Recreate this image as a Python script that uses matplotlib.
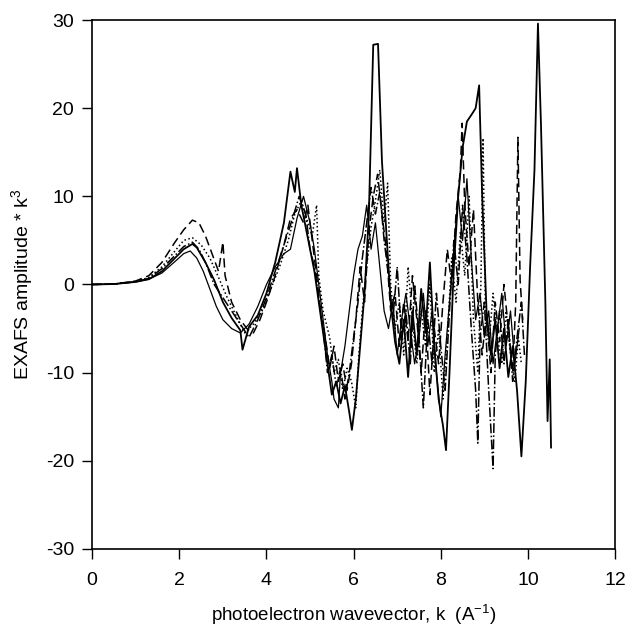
import matplotlib
matplotlib.use("Agg")
import matplotlib.pyplot as plt

plt.rcParams['font.family'] = ['Liberation Sans', 'DejaVu Sans']
plt.rcParams['mathtext.fontset'] = 'custom'
plt.rcParams['mathtext.rm'] = 'Liberation Sans'
plt.rcParams['mathtext.it'] = 'Liberation Sans:italic'
plt.rcParams['axes.unicode_minus'] = False

# sample 1 (solid)
k1 = [0, 0.5, 1.0, 1.3, 1.6, 1.9, 2.1, 2.3, 2.4, 2.6, 2.8, 3.0, 3.2, 3.4, 3.45, 3.6, 3.8, 4.0,
      4.2, 4.4, 4.55, 4.65, 4.7, 4.8, 4.9, 5.0, 5.1, 5.2, 5.3, 5.4, 5.5, 5.6, 5.7, 5.8, 5.9, 5.96,
      6.05, 6.15, 6.25, 6.35, 6.45, 6.56, 6.65, 6.75, 6.85, 6.95, 7.05, 7.15, 7.25, 7.35, 7.45,
      7.55, 7.65, 7.75, 7.85, 7.95, 8.05, 8.12, 8.2, 8.3, 8.4, 8.5, 8.6, 8.71, 8.8, 8.88, 8.95,
      9.05, 9.15, 9.25, 9.35, 9.45, 9.55, 9.65, 9.75, 9.85, 9.95, 10.05, 10.15, 10.23, 10.3,
      10.4, 10.45, 10.5, 10.53]
y1 = [0, 0.05, 0.3, 0.6, 1.5, 3.0, 4.0, 4.6, 4.2, 2.5, 0.5, -2.0, -3.8, -5.2, -7.4, -4.8, -3.5, -1.0,
      2.5, 7.0, 12.8, 10.5, 13.2, 9.0, 6.5, 4.0, 1.5, -2.0, -5.5, -9.0, -12.5, -11.0, -13.5, -11.5,
      -14.5, -16.5, -13.0, -7.0, -1.0, 8.0, 27.2, 27.3, 14.0, 6.0, -2.0, -6.5, -9.0, -4.0, -10.5,
      -3.0, -8.0, -0.5, -5.5, 2.5, -7.0, -13.0, -16.0, -18.8, -10.0, 2.0, 10.0, 15.5, 18.5, 19.3,
      20.0, 22.6, 10.0, -3.0, -8.0, -4.0, -9.5, -5.0, -10.5, -7.0, -12.0, -19.5, -11.0, 2.0, 13.0,
      29.6, 18.0, -2.0, -15.5, -8.5, -18.5]

# sample 2 (dashed)
k2 = [0, 0.5, 1.0, 1.3, 1.6, 1.9, 2.1, 2.3, 2.45, 2.6, 2.75, 2.9, 3.0, 3.05, 3.2, 3.4, 3.55, 3.7,
      3.85, 4.0, 4.2, 4.4, 4.55, 4.7, 4.85, 4.95, 5.05, 5.15, 5.25, 5.35, 5.45, 5.55, 5.65, 5.75,
      5.85, 5.95, 6.05, 6.15, 6.25, 6.35, 6.45, 6.55, 6.65, 6.75, 6.85, 6.95, 7.05, 7.15, 7.25,
      7.35, 7.45, 7.55, 7.65, 7.75, 7.85, 7.95, 8.05, 8.15, 8.25, 8.35, 8.45, 8.49, 8.55, 8.65,
      8.75, 8.85, 8.95, 9.05, 9.15, 9.25, 9.35, 9.45, 9.55, 9.65, 9.72, 9.77, 9.82, 9.88]
y2 = [0, 0.05, 0.4, 1.0, 2.5, 4.8, 6.2, 7.3, 7.0, 5.5, 3.5, 1.5, 4.8, 1.0, -2.0, -4.0, -5.0, -5.5,
      -4.0, -2.0, 1.0, 4.5, 7.5, 8.5, 7.0, 9.0, 5.0, 1.0, -3.5, -6.0, -9.5, -7.0, -11.0, -9.0,
      -12.0, -9.0, -4.0, 2.0, -2.0, 6.0, 10.0, 12.5, 8.0, 4.0, -3.0, -1.0, -7.0, -2.0, -6.5,
      1.0, -4.0, -10.0, -3.0, -12.5, -5.0, -9.0, -2.0, 4.0, 0.0, 8.0, 13.0, 18.3, 9.0, 2.0,
      8.5, -2.0, -8.0, -3.0, -10.0, -2.0, -6.5, 0.0, -5.0, -10.0, -2.0, 16.7, 0.5, -4.0]

# sample 3 (dotted)
k3 = [0, 0.5, 1.0, 1.3, 1.6, 1.9, 2.1, 2.3, 2.5, 2.7, 2.9, 3.1, 3.3, 3.5, 3.7, 3.9, 4.1, 4.3,
      4.5, 4.65, 4.8, 4.95, 5.05, 5.15, 5.2, 5.3, 5.45, 5.55, 5.65, 5.75, 5.85, 5.95, 6.05, 6.12,
      6.2, 6.3, 6.4, 6.5, 6.6, 6.7, 6.78, 6.85, 6.95, 7.05, 7.15, 7.25, 7.35, 7.45, 7.55, 7.65,
      7.75, 7.85, 7.95, 8.05, 8.15, 8.25, 8.35, 8.45, 8.55, 8.65, 8.75, 8.85, 8.92, 8.97, 9.02,
      9.1, 9.2, 9.3, 9.4, 9.5, 9.6, 9.7, 9.78, 9.85]
y3 = [0, 0.05, 0.35, 0.8, 2.0, 3.8, 5.0, 5.3, 4.5, 3.0, 0.8, -1.5, -3.5, -5.5, -4.5, -3.0, -0.5, 2.0,
      5.0, 8.0, 9.5, 7.0, 5.5, 9.0, 1.0, -3.0, -6.0, -10.0, -8.5, -12.0, -9.5, -11.0, -14.0, -8.0,
      -3.0, 2.0, 6.5, 9.5, 13.0, 7.0, 11.5, 0.0, -5.0, -2.0, -8.0, 2.0, -4.0, -9.0, -3.0, -7.0,
      0.0, -10.0, -5.0, -13.0, -6.0, 3.0, -2.0, 6.0, 1.0, 10.0, -4.0, -10.0, 0.0, 16.6, -2.0,
      -7.0, -1.0, -6.0, -9.0, -3.0, -8.0, -11.0, -6.0, -9.0]

# sample 4 (dash-dot)
k4 = [0, 0.5, 1.0, 1.3, 1.6, 1.9, 2.1, 2.3, 2.45, 2.6, 2.8, 3.0, 3.2, 3.4, 3.6, 3.8, 4.0, 4.2,
      4.4, 4.6, 4.75, 4.9, 5.0, 5.1, 5.2, 5.3, 5.4, 5.5, 5.6, 5.7, 5.8, 5.9, 6.0, 6.1, 6.2, 6.3,
      6.4, 6.5, 6.6, 6.7, 6.8, 6.9, 7.0, 7.1, 7.2, 7.3, 7.4, 7.5, 7.6, 7.7, 7.8, 7.9, 8.0, 8.1,
      8.2, 8.3, 8.4, 8.5, 8.6, 8.7, 8.8, 8.85, 8.9, 9.0, 9.1, 9.2, 9.25, 9.35, 9.45, 9.55, 9.65,
      9.75, 9.85, 9.92]
y4 = [0, 0.05, 0.3, 0.7, 1.8, 3.3, 4.3, 4.8, 4.0, 2.5, 0.0, -1.5, -3.0, -4.5, -6.0, -4.0, -1.5, 1.5,
      4.5, 7.5, 10.0, 8.0, 4.0, 2.0, -1.5, -5.0, -10.0, -8.0, -11.5, -9.5, -13.0, -10.0, -6.0, -2.0,
      3.0, 7.0, 11.0, 8.0, 10.5, 5.0, 1.0, -4.0, 2.0, -6.0, -3.0, -9.0, 0.0, -6.0, -14.0, -4.0,
      -9.0, -1.0, -7.0, -12.0, -3.0, 5.0, 0.0, 9.0, 3.0, -5.0, -12.0, -18.0, -6.0, -2.0, -12.0,
      -20.9, -8.0, -3.0, -9.0, -4.0, -11.0, -6.0, -2.0, -8.0]

# sample 5 (thin solid)
k5 = [0, 0.5, 1.0, 1.3, 1.6, 1.9, 2.1, 2.25, 2.4, 2.55, 2.7, 2.85, 3.0, 3.2, 3.4, 3.6, 3.8, 4.0,
      4.2, 4.4, 4.55, 4.7, 4.85, 5.0, 5.1, 5.2, 5.3, 5.4, 5.5, 5.55, 5.65, 5.7, 5.8, 5.9, 6.0, 6.1,
      6.2, 6.3, 6.4, 6.5, 6.6, 6.7, 6.8, 6.9, 7.0, 7.1, 7.2, 7.3, 7.4, 7.5, 7.6, 7.7, 7.8, 7.9,
      8.0, 8.1, 8.2, 8.3, 8.4, 8.5, 8.6, 8.7, 8.8, 8.9, 9.0, 9.1, 9.2, 9.3, 9.4, 9.5, 9.6, 9.7, 9.8]
y5 = [0, 0.05, 0.3, 0.6, 1.3, 2.6, 3.5, 3.8, 3.0, 1.5, -0.5, -2.5, -4.0, -5.0, -5.5, -4.5, -2.5, 0.0,
      2.0, 3.5, 4.0, 7.5, 10.0, 7.0, 4.0, 0.0, -4.0, -8.0, -11.0, -13.0, -14.0, -10.0, -7.0, -3.0,
      1.0, 4.0, 5.5, 9.0, 4.0, 7.0, 2.0, -3.0, -5.0, -2.0, -8.0, -4.0, -1.0, -5.0, -9.0, -6.0,
      -1.0, -7.0, -3.0, -10.0, -15.0, -8.0, -2.0, 4.0, 10.0, 5.0, 12.0, 3.0, -4.0, -1.0, -6.0,
      -3.0, -9.0, -5.0, -1.0, -7.0, -3.0, -9.0, -5.0]

x_ticks = [0, 2, 4, 6, 8, 10, 12]
y_ticks = [-30, -20, -10, 0, 10, 20, 30]


def main():
    fig = plt.figure(figsize=(6.27, 6.28), dpi=100)
    ax = fig.add_axes([0.147, 0.126, 0.834, 0.842])
    ax.plot(k1, y1, 'k-', lw=1.3)
    ax.plot(k2, y2, 'k', ls=(0, (6, 3)), lw=1.1)
    ax.plot(k3, y3, 'k:', lw=1.1)
    ax.plot(k4, y4, 'k-.', lw=1.1)
    ax.plot(k5, y5, 'k-', lw=0.9)

    ax.set_xlim(0, 12)
    ax.set_ylim(-30, 30)
    ax.set_xticks(x_ticks)
    ax.set_yticks(y_ticks)
    ax.tick_params(direction='out', length=7, width=1, labelsize=14, top=False, right=False)
    ax.tick_params(axis='x', pad=10)
    ax.tick_params(axis='y', pad=6)
    for s in ax.spines.values():
        s.set_linewidth(1.2)
    ax.set_xlabel(r'photoelectron wavevector, k  (A$^{-1}$)', fontsize=13.5, labelpad=10)
    ax.set_ylabel(r'EXAFS amplitude * k$^{3}$', fontsize=14, labelpad=8)

    fig.savefig('out.png', dpi=100)


if __name__ == '__main__':
    main()
